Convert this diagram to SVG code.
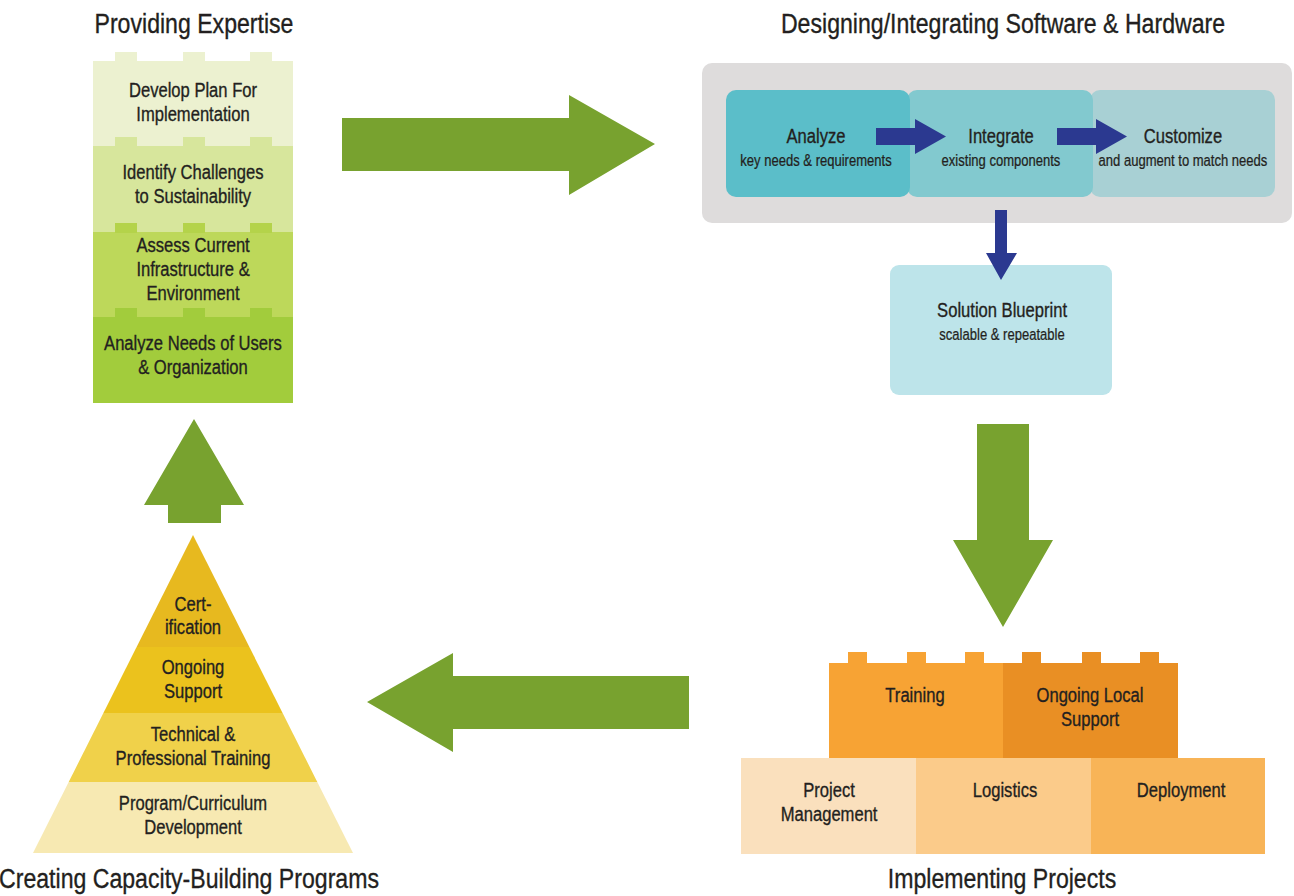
<svg xmlns="http://www.w3.org/2000/svg" width="1294" height="896" viewBox="0 0 1294 896">
<style>
text{font-family:"Liberation Sans",Arial,sans-serif;fill:#231f20;stroke:#231f20;stroke-width:0.35;text-anchor:middle;transform-box:fill-box;transform-origin:center;transform:scaleX(0.79)}
.title{font-size:28px;transform:scaleX(0.825)}
.lbl{font-size:21px}
.sub{font-size:16.5px;stroke-width:0.25}
.green{fill:#78a22f}
.navy{fill:#2b3990}
</style>
<rect width="1294" height="896" fill="#ffffff"/>

<!-- Titles -->
<g id="title-expertise"><text class="title" x="194" y="33">Providing Expertise</text></g>
<g id="title-designing"><text class="title" x="1003" y="33">Designing/Integrating Software &amp; Hardware</text></g>
<g id="title-implementing"><text class="title" x="1002" y="888">Implementing Projects</text></g>
<g id="title-capacity"><text class="title" x="189" y="888">Creating Capacity-Building Programs</text></g>

<!-- Providing Expertise stack -->
<g id="stack-develop">
<rect x="93" y="61" width="200" height="85" fill="#ecf1d0"/>
<rect x="115" y="52" width="22" height="10" fill="#ecf1d0"/>
<rect x="183" y="52" width="22" height="10" fill="#ecf1d0"/>
<rect x="250" y="52" width="22" height="10" fill="#ecf1d0"/>
<text class="lbl" x="193" y="97">Develop Plan For</text>
<text class="lbl" x="193" y="121">Implementation</text>
</g>
<g id="stack-identify">
<rect x="93" y="146" width="200" height="86" fill="#d7e69c"/>
<rect x="115" y="137" width="22" height="10" fill="#d7e69c"/>
<rect x="183" y="137" width="22" height="10" fill="#d7e69c"/>
<rect x="250" y="137" width="22" height="10" fill="#d7e69c"/>
<text class="lbl" x="193" y="179">Identify Challenges</text>
<text class="lbl" x="193" y="203">to Sustainability</text>
</g>
<g id="stack-assess">
<rect x="93" y="232" width="200" height="85" fill="#bdd85a"/>
<rect x="115" y="223" width="22" height="10" fill="#b4d34a"/>
<rect x="183" y="223" width="22" height="10" fill="#b4d34a"/>
<rect x="250" y="223" width="22" height="10" fill="#b4d34a"/>
<text class="lbl" x="193" y="252">Assess Current</text>
<text class="lbl" x="193" y="276">Infrastructure &amp;</text>
<text class="lbl" x="193" y="300">Environment</text>
</g>
<g id="stack-analyze">
<rect x="93" y="317" width="200" height="86" fill="#a2cc3c"/>
<rect x="115" y="308" width="22" height="10" fill="#a2cc3c"/>
<rect x="183" y="308" width="22" height="10" fill="#a2cc3c"/>
<rect x="250" y="308" width="22" height="10" fill="#a2cc3c"/>
<text class="lbl" x="193" y="350">Analyze Needs of Users</text>
<text class="lbl" x="193" y="374">&amp; Organization</text>
</g>

<!-- Designing panel -->
<g id="design-panel">
<rect x="702" y="63" width="590" height="160" rx="10" fill="#dedcdc"/>
</g>
<g id="node-customize">
<rect x="1090" y="90" width="185" height="107" rx="10" fill="#a8d0d4"/>
<text class="lbl" x="1183" y="143">Customize</text>
<text class="sub" x="1183" y="166">and augment to match needs</text>
</g>
<g id="node-integrate">
<rect x="907" y="90" width="186" height="107" rx="10" fill="#82c9cf"/>
<text class="lbl" x="1001" y="143">Integrate</text>
<text class="sub" x="1001" y="166">existing components</text>
</g>
<g id="node-analyze">
<rect x="726" y="90" width="184" height="107" rx="10" fill="#5bbec9"/>
<text class="lbl" x="816" y="143">Analyze</text>
<text class="sub" x="816" y="166">key needs &amp; requirements</text>
</g>
<g id="node-blueprint">
<rect x="890" y="265" width="222" height="130" rx="9" fill="#bde4ea"/>
<text class="lbl" x="1002" y="317">Solution Blueprint</text>
<text class="sub" x="1002" y="340">scalable &amp; repeatable</text>
</g>

<!-- Implementing Projects blocks -->
<g id="block-training">
<rect x="829" y="663" width="175" height="95" fill="#f7a334"/>
<rect x="848" y="652" width="19" height="12" fill="#f7a334"/>
<rect x="907" y="652" width="19" height="12" fill="#f7a334"/>
<rect x="965" y="652" width="19" height="12" fill="#f7a334"/>
<text class="lbl" x="915" y="702">Training</text>
</g>
<g id="block-support">
<rect x="1003" y="663" width="175" height="95" fill="#e98f24"/>
<rect x="1022" y="652" width="19" height="12" fill="#e98f24"/>
<rect x="1082" y="652" width="19" height="12" fill="#e98f24"/>
<rect x="1140" y="652" width="19" height="12" fill="#e98f24"/>
<text class="lbl" x="1090" y="702">Ongoing Local</text>
<text class="lbl" x="1090" y="726">Support</text>
</g>
<g id="block-pm">
<rect x="741" y="758" width="176" height="96" fill="#fae0bd"/>
<text class="lbl" x="829" y="797">Project</text>
<text class="lbl" x="829" y="821">Management</text>
</g>
<g id="block-logistics">
<rect x="916" y="758" width="176" height="96" fill="#fbcb8a"/>
<text class="lbl" x="1005" y="797">Logistics</text>
</g>
<g id="block-deployment">
<rect x="1091" y="758" width="174" height="96" fill="#f8b457"/>
<text class="lbl" x="1181" y="797">Deployment</text>
</g>

<!-- Pyramid -->
<g id="pyr-cert">
<polygon points="193,535 249.4,647 136.6,647" fill="#e7b91f"/>
<text class="lbl" x="193" y="611">Cert-</text>
<text class="lbl" x="193" y="634">ification</text>
</g>
<g id="pyr-ongoing">
<polygon points="136.6,647 249.4,647 282.6,713 103.4,713" fill="#ebc21d"/>
<text class="lbl" x="193" y="674">Ongoing</text>
<text class="lbl" x="193" y="698">Support</text>
</g>
<g id="pyr-technical">
<polygon points="103.4,713 282.6,713 317.3,782 68.7,782" fill="#f0d14a"/>
<text class="lbl" x="193" y="741">Technical &amp;</text>
<text class="lbl" x="193" y="765">Professional Training</text>
</g>
<g id="pyr-program">
<polygon points="68.7,782 317.3,782 353,853 33,853" fill="#f7e9b2"/>
<text class="lbl" x="193" y="810">Program/Curriculum</text>
<text class="lbl" x="193" y="834">Development</text>
</g>

<!-- Connectors -->
<g id="connectors">
<polygon class="green" points="342,118 569,118 569,95 655,144 569,195 569,171 342,171"/>
<polygon class="green" points="977,424 1029,424 1029,540 1053,540 1003,627 953,540 977,540"/>
<polygon class="green" points="689,676 453,676 453,653 367,702 453,752 453,729 689,729"/>
<polygon class="green" points="168,523 168,505 144,505 194,419 244,505 221,505 221,523"/>
<polygon class="navy" points="876,128 915,128 915,119 946,136.5 915,154 915,145 876,145"/>
<polygon class="navy" points="1057,128 1096,128 1096,119 1127,136.5 1096,154 1096,145 1057,145"/>
<polygon class="navy" points="995,210 1007,210 1007,253 1017,253 1001,280 986,253 995,253"/>
</g>
</svg>
